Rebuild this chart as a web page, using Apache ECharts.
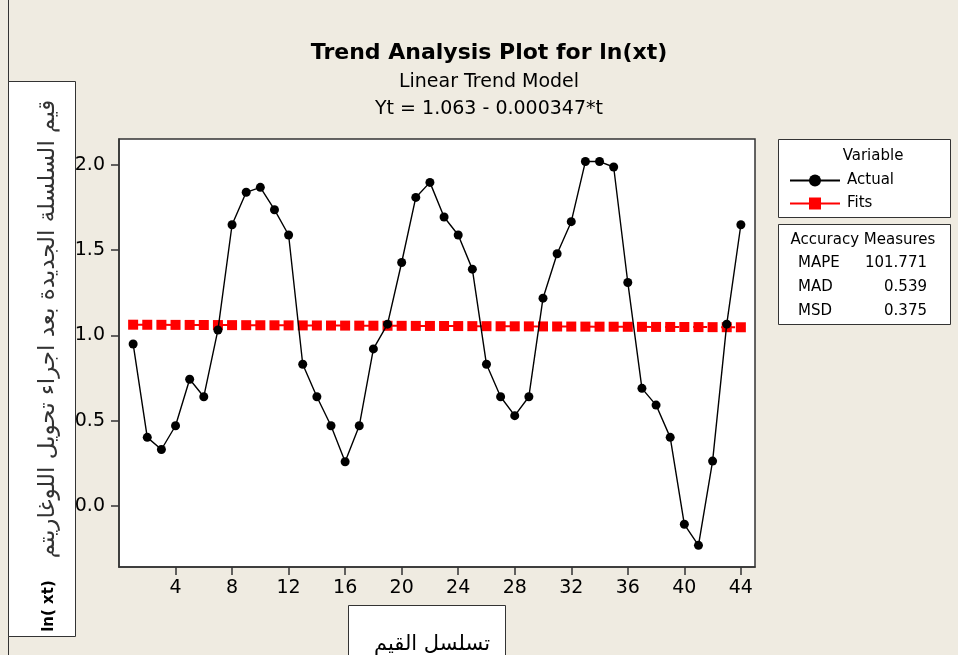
<!DOCTYPE html>
<html>
<head>
<meta charset="utf-8">
<script src="https://cdn.jsdelivr.net/npm/echarts@6/dist/echarts.min.js"></script>
<style>
html,body{margin:0;padding:0;background:#EFEBE1;}
#chart{width:958px;height:655px;}
</style>
</head>
<body>
<div id="chart"></div>
<script>
// ---- data ----
const timeIndex = [1,2,3,4,5,6,7,8,9,10,11,12,13,14,15,16,17,18,19,20,21,22,23,24,25,26,27,28,29,30,31,32,33,34,35,36,37,38,39,40,41,42,43,44];
const actualValues = [0.950,0.403,0.332,0.471,0.743,0.641,1.032,1.648,1.838,1.867,1.736,1.588,0.831,0.641,0.471,0.260,0.471,0.921,1.066,1.427,1.808,1.896,1.693,1.588,1.388,0.831,0.641,0.530,0.641,1.218,1.478,1.666,2.018,2.018,1.986,1.310,0.690,0.592,0.403,-0.106,-0.229,0.264,1.066,1.648];
const fitsValues = [1.0627,1.0623,1.0620,1.0616,1.0613,1.0609,1.0606,1.0602,1.0599,1.0595,1.0592,1.0588,1.0585,1.0581,1.0578,1.0574,1.0571,1.0568,1.0564,1.0561,1.0557,1.0554,1.0550,1.0547,1.0543,1.0540,1.0536,1.0533,1.0529,1.0526,1.0522,1.0519,1.0515,1.0512,1.0509,1.0505,1.0502,1.0498,1.0495,1.0491,1.0488,1.0484,1.0481,1.0477];
const xTickValues = [4,8,12,16,20,24,28,32,36,40,44];
const yTickValues = [0,0.5,1,1.5,2];
const seriesNames = ['Actual','Fits'];
const accuracyNames = ['MAPE','MAD','MSD'];
const accuracyValues = ['101.771','0.539','0.375'];

const titleText = 'Trend Analysis Plot for ln(xt)';
const subtitle1 = 'Linear Trend Model';
const subtitle2 = 'Yt = 1.063 - 0.000347*t';
const yLabelArabic = 'قيم السلسلة الجديدة بعد اجراء تحويل اللوغاريتم';
const yLabelLatin = 'ln( xt)';
const xLabelText = 'تسلسل القيم';

const font = 'DejaVu Sans';
const chart = echarts.init(document.getElementById('chart'), null, {renderer:'canvas'});

const pairs = (vals) => timeIndex.map((t,i)=>[t, vals[i]]);

const graphics = [
  {type:'line', shape:{x1:8.5,y1:0,x2:8.5,y2:655}, style:{stroke:'#333',lineWidth:1}, z:1},
  {type:'rect', shape:{x:8.5,y:81.5,width:67,height:555}, style:{fill:'#fff',stroke:'#333',lineWidth:1}, z:1},
  {type:'text', x:48, y:329, rotation:Math.PI/2, style:{text:yLabelArabic, font:'23px "DejaVu Sans"', fill:'#333', align:'center', verticalAlign:'middle'}, z:2},
  {type:'text', x:49, y:606, rotation:Math.PI/2, style:{text:yLabelLatin, font:'bold 15px "DejaVu Sans"', fill:'#000', align:'center', verticalAlign:'middle'}, z:2},
  {type:'rect', shape:{x:348.5,y:605.5,width:157,height:60}, style:{fill:'#fff',stroke:'#333',lineWidth:1}, z:1},
  {type:'text', x:432, y:655, style:{text:xLabelText, font:'21px "DejaVu Sans"', fill:'#000', align:'center', verticalAlign:'bottom'}, z:2},
  {type:'text', x:489, y:53, style:{text:titleText, font:'bold 22px "DejaVu Sans"', fill:'#000', align:'center', verticalAlign:'middle'}},
  {type:'text', x:489, y:82, style:{text:subtitle1, font:'19px "DejaVu Sans"', fill:'#000', align:'center', verticalAlign:'middle'}},
  {type:'text', x:489, y:109, style:{text:subtitle2, font:'19px "DejaVu Sans"', fill:'#000', align:'center', verticalAlign:'middle'}},
  {type:'rect', shape:{x:778.5,y:139.5,width:172,height:78}, style:{fill:'#fff',stroke:'#333',lineWidth:1}, z:1},
  {type:'text', x:873, y:156, style:{text:'Variable', font:'15px "DejaVu Sans"', fill:'#000', align:'center', verticalAlign:'middle'}, z:2},
  {type:'rect', shape:{x:778.5,y:224.5,width:172,height:100}, style:{fill:'#fff',stroke:'#333',lineWidth:1}, z:1},
  {type:'text', x:863, y:240, style:{text:'Accuracy Measures', font:'15px "DejaVu Sans"', fill:'#000', align:'center', verticalAlign:'middle'}, z:2}
];
const rowY = [263, 287, 311];
accuracyNames.forEach((n,i)=>{
  graphics.push({type:'text', x:798, y:rowY[i], style:{text:n, font:'15px "DejaVu Sans"', fill:'#000', align:'left', verticalAlign:'middle'}, z:2});
  graphics.push({type:'text', x:927, y:rowY[i], style:{text:accuracyValues[i], font:'15px "DejaVu Sans"', fill:'#000', align:'right', verticalAlign:'middle'}, z:2});
});

chart.setOption({
  backgroundColor:'#EFEBE1',
  animation:false,
  textStyle:{fontFamily:font},
  grid:{left:119, right:203, top:139, bottom:88, show:true, backgroundColor:'#fff', borderColor:'#333', borderWidth:1.5, containLabel:false},
  legend:{
    orient:'vertical', left:784, top:168, itemWidth:50, itemHeight:15, itemGap:8,
    textStyle:{fontSize:15, color:'#000', fontFamily:font, padding:[0,0,0,2]},
    data:[
      {name:seriesNames[0]},
      {name:seriesNames[1], lineStyle:{type:'solid'}}
    ]
  },
  xAxis:{
    type:'value', min:0, max:45, interval:4,
    axisLine:{show:true, onZero:false, lineStyle:{color:'#333', width:1.5}},
    axisTick:{show:true, length:8, customValues:xTickValues, lineStyle:{color:'#333', width:1.5}},
    axisLabel:{customValues:xTickValues, fontSize:19, color:'#000', margin:12, fontFamily:font},
    splitLine:{show:false}
  },
  yAxis:{
    type:'value', min:-0.356, max:2.15,
    axisLine:{show:true, onZero:false, lineStyle:{color:'#333', width:1.5}},
    axisTick:{show:true, length:8, customValues:yTickValues, lineStyle:{color:'#333', width:1.5}},
    axisLabel:{customValues:yTickValues, fontSize:19, color:'#000', margin:14, fontFamily:font, formatter:(v)=>v.toFixed(1)},
    splitLine:{show:false}
  },
  series:[
    {name:seriesNames[0], type:'line', data:pairs(actualValues), symbol:'circle', symbolSize:9,
     itemStyle:{color:'#000'}, lineStyle:{color:'#000', width:1.4}, z:3},
    {name:seriesNames[1], type:'line', data:pairs(fitsValues), symbol:'rect', symbolSize:10,
     itemStyle:{color:'#FF0000'}, lineStyle:{color:'#FF0000', width:2, type:[14,14]}, z:2}
  ],
  graphic:graphics
});
</script>
</body>
</html>
